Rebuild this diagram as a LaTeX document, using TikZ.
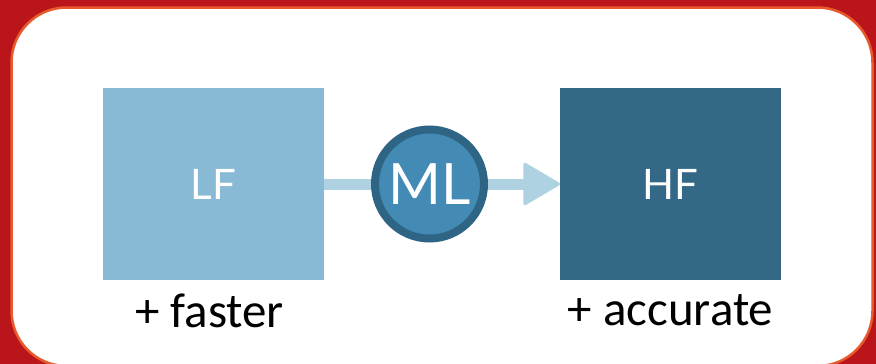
\documentclass[tikz,border=0pt]{standalone}
\usepackage{fontspec}
\usepackage{tikz}
\usetikzlibrary{positioning}
\usetikzlibrary{arrows,arrows.meta}
\newfontfamily\latofont{Lato}
\newfontfamily\calfont{Carlito}
\definecolor{slidered}{HTML}{BB151C}
\definecolor{rimorange}{HTML}{E85A2C}
\definecolor{lfblue}{HTML}{88BAD6}
\definecolor{hfblue}{HTML}{336986}
\definecolor{mlfill}{HTML}{438BB5}
\definecolor{mlrim}{HTML}{2E6585}
\definecolor{flowblue}{HTML}{AED2E2}
\tikzset{
  fidbox/.style={rectangle,minimum width=221pt,minimum height=192pt,inner sep=0pt,outer sep=0pt,
    text=white,font=\latofont\fontsize{42}{42}\selectfont},
  mlnode/.style={circle,fill=mlfill,draw=mlrim,line width=8pt,minimum size=109pt,inner sep=0pt,
    outer sep=0pt,text=white,font=\latofont\fontsize{57}{57}\selectfont},
  flow/.style={flowblue,line width=11pt,-{Triangle[length=38pt,width=44pt,line width=3pt,round]}},
  gain/.style={inner sep=0pt,font=\calfont\fontsize{49}{49}\selectfont}
}
\begin{document}
\begin{tikzpicture}[x=1pt,y=-1pt]
  \useasboundingbox (0,0) rectangle (876,364);
  \clip (0,0) rectangle (876,364);
  \fill[slidered] (0,0) rectangle (876,364);
  \draw[fill=white,draw=rimorange,line width=2.5pt,rounded corners=55pt] (11.5,7.5) rectangle (872.5,366);
  \node[fidbox,fill=lfblue] (lf) at (213.5,184) {LF};
  \node[fidbox,fill=hfblue,right=236pt of lf] (hf) {HF};
  \draw[flow] (lf) -- (hf);
  \node[mlnode,right=51pt of lf] (ml) {ML};
  \node[gain,below=14pt of lf,xshift=-4pt] (fast) {+ faster};
  \node[gain,below=14pt of hf] (acc) {+ accurate};
\end{tikzpicture}
\end{document}
